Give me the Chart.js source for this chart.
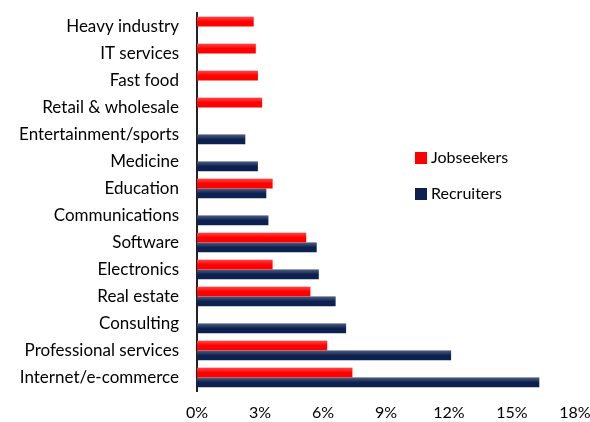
<!DOCTYPE html>
<html>
<head>
<meta charset="utf-8">
<script src="https://cdn.jsdelivr.net/npm/chart.js@4"></script>
<style>
  html, body { margin: 0; padding: 0; background: #fff; }
  #wrap { position: relative; width: 590px; height: 422px; }
  canvas { display: block; }
  .legend { position: absolute; left: 415px; font: 16px Lato, "Open Sans", sans-serif; color: #000; }
  .legend span { display: inline-block; width: 12px; height: 12px; margin-right: 4px; vertical-align: -1px; }
</style>
</head>
<body>
<div id="wrap">
  <canvas id="myChart" width="590" height="422"></canvas>
  <div class="legend" style="top:147px"><span style="background:#ff0000"></span>Jobseekers</div>
  <div class="legend" style="top:183px"><span style="background:#0c2150"></span>Recruiters</div>
</div>
<script>
const categories = [
    'Heavy industry', 'IT services', 'Fast food', 'Retail & wholesale',
    'Entertainment/sports', 'Medicine', 'Education', 'Communications',
    'Software', 'Electronics', 'Real estate', 'Consulting',
    'Professional services', 'Internet/e-commerce'
];
const jobseekers = [2.7, 2.8, 2.9, 3.1, null, null, 3.6, null, 5.2, 3.6, 5.4, null, 6.2, 7.4];
const recruiters = [null, null, null, null, 2.3, 2.9, 3.3, 3.4, 5.7, 5.8, 6.6, 7.1, 12.1, 16.3];
const xTicks = [0, 3, 6, 9, 12, 15, 18];

// light band across the top of each bar
const shine = {
    id: 'shine',
    afterDatasetsDraw(chart) {
        const ctx = chart.ctx;
        chart.data.datasets.forEach((ds, i) => {
            chart.getDatasetMeta(i).data.forEach(bar => {
                if (bar.x == null || isNaN(bar.x)) return;
                const top = bar.y - bar.height / 2;
                const g = ctx.createLinearGradient(0, top, 0, top + bar.height * 0.5);
                g.addColorStop(0, 'rgba(255,255,255,0.28)');
                g.addColorStop(1, 'rgba(255,255,255,0)');
                ctx.fillStyle = g;
                ctx.fillRect(bar.base, top, bar.x - bar.base, bar.height * 0.5);
            });
        });
    }
};

const ctx = document.getElementById('myChart');

new Chart(ctx, {
    type: 'bar',
    data: {
        labels: categories,
        datasets: [{
            label: 'Jobseekers',
            data: jobseekers,
            backgroundColor: '#ff0000',
            categoryPercentage: 0.72,
            barPercentage: 1
        }, {
            label: 'Recruiters',
            data: recruiters,
            backgroundColor: '#0c2150',
            categoryPercentage: 0.72,
            barPercentage: 1
        }]
    },
    plugins: [shine],
    options: {
        indexAxis: 'y',
        responsive: false,
        animation: false,
        layout: { padding: { top: 13, right: 15, left: 0, bottom: 0 } },
        plugins: {
            legend: { display: false },
            tooltip: { enabled: false }
        },
        scales: {
            x: {
                min: 0,
                max: 18,
                afterBuildTicks: scale => { scale.ticks = xTicks.map(v => ({ value: v })); },
                afterFit: scale => {
                    scale.height = 31;
                    scale.paddingLeft = 0;
                    scale.paddingRight = 0;
                },
                grid: { display: false, drawTicks: false },
                border: { display: false },
                ticks: {
                    color: '#000',
                    padding: 12,
                    font: { family: 'Lato', size: 16 },
                    callback: v => v + '%'
                }
            },
            y: {
                afterFit: scale => {
                    scale.width = 197;
                    scale.paddingTop = 0;
                    scale.paddingBottom = 0;
                },
                grid: { display: false, drawTicks: false },
                border: { display: true, color: '#222', width: 2 },
                ticks: {
                    color: '#000',
                    padding: 18,
                    font: { family: 'Lato', size: 17 }
                }
            }
        }
    }
});
</script>
</body>
</html>
